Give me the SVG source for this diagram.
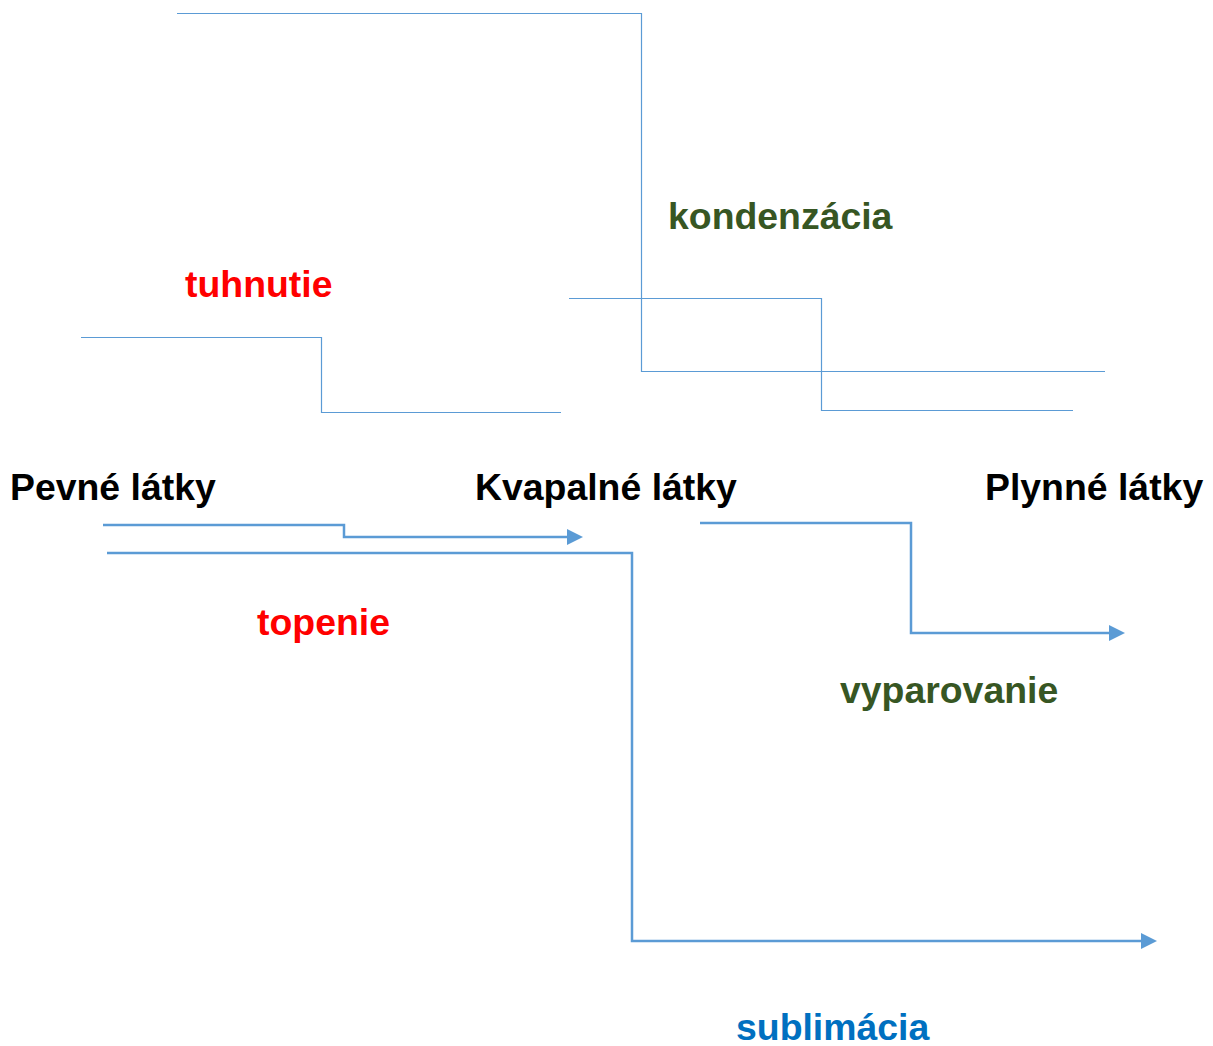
<svg xmlns="http://www.w3.org/2000/svg" width="1213" height="1046" viewBox="0 0 1213 1046">
<style>
  .lbl { font-family: "Liberation Sans", Arial, sans-serif; font-weight: bold; font-size: 37.4px; }
  .state { fill: #000000; }
  .red { fill: #FF0000; }
  .green { fill: #375623; }
  .blue { fill: #0070C0; }
  .thin { fill: none; stroke: #5B9BD5; stroke-width: 1.2; }
  .thick { fill: none; stroke: #5B9BD5; stroke-width: 2.5; }
</style>
<defs>
  <marker id="arr" markerUnits="userSpaceOnUse" markerWidth="16" markerHeight="16" refX="0" refY="8" orient="auto" viewBox="0 0 16 16">
    <path d="M0,0 L16,8 L0,16 Z" fill="#5B9BD5"/>
  </marker>
</defs>
<rect width="1213" height="1046" fill="#FFFFFF"/>
<g id="connectors">
  <path id="c-tuhnutie" class="thin" d="M81,337.5 H321.5 V412.5 H561"/>
  <path id="c-kondenzacia" class="thin" d="M177,13.5 H641.5 V371.5 H1105"/>
  <path id="c-kondenzacia2" class="thin" d="M569,298.5 H821.5 V410.5 H1073"/>
  <path id="c-topenie" class="thick" d="M103,525 H344 V537 H567" marker-end="url(#arr)"/>
  <path id="c-sublimacia" class="thick" d="M107,553 H632 V941 H1141" marker-end="url(#arr)"/>
  <path id="c-vyparovanie" class="thick" d="M700,523 H911 V633 H1109" marker-end="url(#arr)"/>
</g>
<g id="node-pevne"><text class="lbl state" x="10" y="500">Pevné látky</text></g>
<g id="node-kvapalne"><text class="lbl state" x="475" y="500">Kvapalné látky</text></g>
<g id="node-plynne"><text class="lbl state" x="985" y="500">Plynné látky</text></g>
<g id="label-tuhnutie"><text class="lbl red" x="185" y="297">tuhnutie</text></g>
<g id="label-kondenzacia"><text class="lbl green" x="668" y="229">kondenzácia</text></g>
<g id="label-topenie"><text class="lbl red" x="257" y="635">topenie</text></g>
<g id="label-vyparovanie"><text class="lbl green" x="840" y="703">vyparovanie</text></g>
<g id="label-sublimacia"><text class="lbl blue" x="736" y="1040">sublimácia</text></g>
</svg>
